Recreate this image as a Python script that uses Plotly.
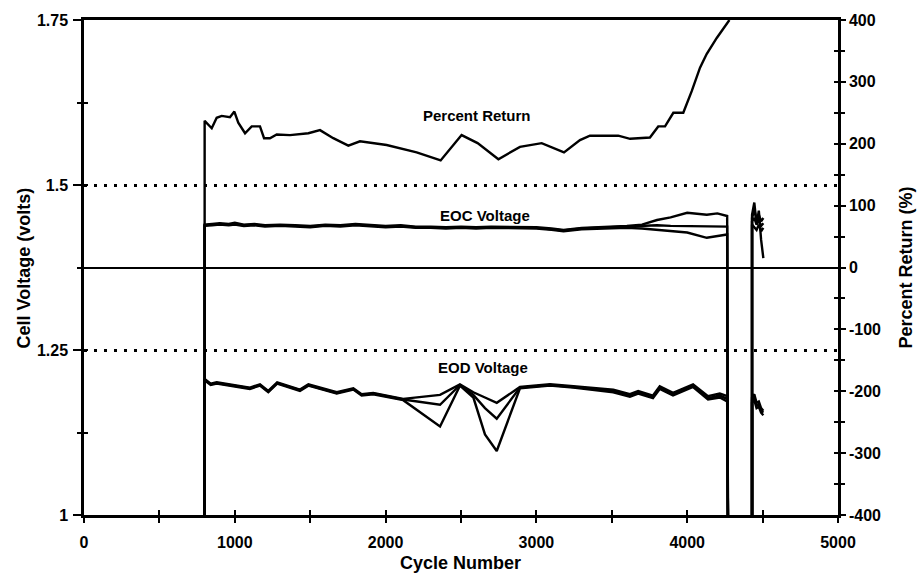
import plotly.graph_objects as go

# ---------------- data ----------------
# Percent return (right axis, %), first test segment
pr_cycles = [800, 800, 847, 880, 913, 968, 997, 1023, 1068, 1112, 1167, 1194, 1233, 1278,
             1366, 1488, 1565, 1653, 1753, 1830, 2007, 2206, 2365, 2504, 2610, 2748, 2891,
             3035, 3183, 3289, 3355, 3543, 3621, 3753, 3808, 3853, 3908, 3974, 4030, 4085,
             4129, 4196, 4280]
pr_values = [-400, 237, 225, 242, 245, 243, 252, 234, 217, 228, 228, 209, 209, 215,
             214, 217, 222, 209, 197, 204, 198, 186, 173, 214, 201, 175, 195,
             201, 186, 206, 213, 213, 208, 210, 228, 228, 250, 250, 285, 323,
             345, 371, 400]

# End-of-charge voltage (three cells), first segment
eoc_cycles = [800, 800, 850, 900, 960, 1000, 1060, 1130, 1200, 1300, 1400, 1500, 1600, 1700,
              1800, 1900, 2000, 2100, 2200, 2300, 2400, 2500, 2600, 2700, 2800, 2900, 3000,
              3100, 3180, 3300, 3400, 3500, 3600, 3700, 3800, 3890, 4000, 4130, 4200, 4265, 4270]
eoc_a = [1.0, 1.440, 1.441, 1.442, 1.441, 1.443, 1.440, 1.441, 1.439, 1.440,
         1.439, 1.438, 1.440, 1.439, 1.441, 1.439, 1.438, 1.439, 1.437, 1.437,
         1.436, 1.437, 1.436, 1.437, 1.437, 1.437, 1.436, 1.434, 1.432, 1.435,
         1.436, 1.436, 1.438, 1.440, 1.447, 1.451, 1.458, 1.455, 1.457, 1.453, 1.0]
eoc_b = [1.0, 1.439, 1.440, 1.441, 1.440, 1.441, 1.439, 1.440, 1.438, 1.439,
         1.438, 1.437, 1.439, 1.438, 1.440, 1.438, 1.437, 1.438, 1.436, 1.436,
         1.435, 1.436, 1.435, 1.436, 1.436, 1.436, 1.435, 1.433, 1.431, 1.434,
         1.435, 1.435, 1.436, 1.437, 1.439, 1.438, 1.438, 1.437, 1.437, 1.437, 1.0]
eoc_c = [1.0, 1.438, 1.439, 1.440, 1.439, 1.440, 1.438, 1.439, 1.437, 1.438,
         1.437, 1.436, 1.438, 1.437, 1.439, 1.437, 1.436, 1.437, 1.435, 1.435,
         1.434, 1.435, 1.434, 1.435, 1.435, 1.435, 1.434, 1.432, 1.430, 1.433,
         1.434, 1.434, 1.435, 1.434, 1.432, 1.430, 1.428, 1.420, 1.423, 1.425, 1.0]

# End-of-discharge voltage (three cells), first segment
eod_cycles = [800, 800, 840, 880, 1100, 1167, 1222, 1281, 1432, 1488, 1676, 1786, 1841, 1918,
              2117, 2361, 2493, 2582, 2659, 2737, 2891, 3090, 3245, 3510, 3620, 3675, 3773,
              3818, 3906, 4039, 4138, 4216, 4265, 4270]
eod_a = [1.0, 1.206, 1.199, 1.201, 1.193, 1.198, 1.188, 1.201, 1.190, 1.198,
         1.186, 1.192, 1.183, 1.185, 1.176, 1.182, 1.198, 1.186, 1.178, 1.170,
         1.194, 1.198, 1.195, 1.190, 1.183, 1.188, 1.181, 1.195, 1.185, 1.198,
         1.180, 1.184, 1.180, 1.0]
eod_b = [1.0, 1.205, 1.198, 1.200, 1.192, 1.197, 1.187, 1.200, 1.189, 1.197,
         1.185, 1.191, 1.182, 1.184, 1.175, 1.167, 1.197, 1.182, 1.162, 1.146,
         1.193, 1.197, 1.194, 1.188, 1.181, 1.186, 1.179, 1.193, 1.183, 1.196,
         1.177, 1.181, 1.176, 1.0]
eod_c = [1.0, 1.204, 1.197, 1.199, 1.191, 1.196, 1.186, 1.199, 1.188, 1.196,
         1.184, 1.190, 1.181, 1.183, 1.174, 1.134, 1.196, 1.178, 1.122, 1.097,
         1.192, 1.196, 1.193, 1.186, 1.179, 1.184, 1.177, 1.191, 1.181, 1.194,
         1.175, 1.178, 1.172, 1.0]

# Second (restarted) segment
seg2_cycles = [4430, 4430, 4445, 4460, 4475, 4490, 4505]
pr2_values = [-400, 85, 105, 70, 92, 45, 15]
eoc2_a = [1.0, 1.450, 1.462, 1.448, 1.455, 1.445, 1.450]
eoc2_b = [1.0, 1.445, 1.450, 1.440, 1.447, 1.438, 1.442]
eoc2_c = [1.0, 1.440, 1.436, 1.432, 1.440, 1.430, 1.435]
eod2_a = [1.0, 1.178, 1.183, 1.170, 1.172, 1.162, 1.158]
eod2_b = [1.0, 1.174, 1.178, 1.166, 1.168, 1.158, 1.155]
eod2_c = [1.0, 1.170, 1.174, 1.162, 1.164, 1.155, 1.151]

# Axis ticks
x_tickvals = [0, 500, 1000, 1500, 2000, 2500, 3000, 3500, 4000, 4500, 5000]
x_ticktext = ["0", "", "1000", "", "2000", "", "3000", "", "4000", "", "5000"]
y_tickvals = [1.0, 1.25, 1.5, 1.75]
y_ticktext = ["1", "1.25", "1.5", "1.75"]
y_minorvals = [1.125, 1.375, 1.625]
y2_tickvals = [-400, -300, -200, -100, 0, 100, 200, 300, 400]
y2_ticktext = ["-400", "-300", "-200", "-100", "0", "100", "200", "300", "400"]
y2_minorvals = [-350, -250, -150, -50, 50, 150, 250, 350]

labels = {"pr": "Percent Return", "eoc": "EOC Voltage", "eod": "EOD Voltage"}
label_pos = {"pr": (2606, 1.606), "eoc": (2659, 1.4545), "eod": (2646, 1.2242)}

for a, b in [(pr_cycles, pr_values), (eoc_cycles, eoc_a), (eoc_cycles, eoc_b), (eoc_cycles, eoc_c),
             (eod_cycles, eod_a), (eod_cycles, eod_b), (eod_cycles, eod_c)]:
    assert len(a) == len(b), (len(a), len(b))

# ---------------- figure ----------------
FONT = "Liberation Sans"
BLACK = "#000000"
LW = 2.4


def bold(items):
    return ["<b>%s</b>" % t if t else "" for t in items]


def join(c1, v1, c2, v2):
    return list(c1) + [None] + list(c2), list(v1) + [None] + list(v2)


fig = go.Figure()
line = dict(color=BLACK, width=LW)

# EOC on the primary x / y axes
for v1, v2 in [(eoc_a, eoc2_a), (eoc_b, eoc2_b), (eoc_c, eoc2_c)]:
    xs, ys = join(eoc_cycles, v1, seg2_cycles, v2)
    fig.add_trace(go.Scatter(x=xs, y=ys, mode="lines", line=line, connectgaps=False,
                             showlegend=False, hoverinfo="skip"))
# EOD on twin axes x3 / y3 (same ranges; they carry the inward half of the ticks)
for v1, v2 in [(eod_a, eod2_a), (eod_b, eod2_b), (eod_c, eod2_c)]:
    xs, ys = join(eod_cycles, v1, seg2_cycles, v2)
    fig.add_trace(go.Scatter(x=xs, y=ys, mode="lines", line=line, connectgaps=False,
                             showlegend=False, hoverinfo="skip", xaxis="x3", yaxis="y3"))
# Percent return on the right axis (first segment y2, restart segment on its twin y4)
fig.add_trace(go.Scatter(x=pr_cycles, y=pr_values, mode="lines", line=line,
                         showlegend=False, yaxis="y2", hoverinfo="skip"))
fig.add_trace(go.Scatter(x=seg2_cycles, y=pr2_values, mode="lines", line=line,
                         showlegend=False, yaxis="y4", hoverinfo="skip"))

tickfont = dict(family=FONT, size=16, color=BLACK)

fig.update_layout(
    width=917, height=577,
    margin=dict(l=84, r=79, t=20, b=62),
    paper_bgcolor="white", plot_bgcolor="white",
    font=dict(family=FONT, color=BLACK),
    xaxis=dict(range=[0, 5000], tickmode="array", tickvals=x_tickvals, ticktext=bold(x_ticktext),
               ticks="outside", ticklen=5, tickwidth=2, tickcolor=BLACK,
               showline=True, linewidth=2.5, linecolor=BLACK, mirror=True,
               showgrid=False, zeroline=False, tickfont=tickfont, ticklabelstandoff=6),
    yaxis=dict(range=[1.0, 1.75], tickmode="array", tickvals=y_tickvals, ticktext=bold(y_ticktext),
               ticks="outside", ticklen=8, tickwidth=2, tickcolor=BLACK,
               minor=dict(tickmode="array", tickvals=y_minorvals, ticks="outside", ticklen=4,
                          tickwidth=2, tickcolor=BLACK, showgrid=False),
               showline=True, linewidth=2.5, linecolor=BLACK,
               showgrid=True, gridcolor=BLACK, gridwidth=2.5, griddash="3px,7px",
               zeroline=False, tickfont=tickfont, ticklabelstandoff=2),
    yaxis2=dict(range=[-400, 400], overlaying="y", side="right", anchor="x",
                tickmode="array", tickvals=y2_tickvals, ticktext=bold(y2_ticktext),
                ticks="outside", ticklen=5, tickwidth=2, tickcolor=BLACK,
                minor=dict(tickmode="array", tickvals=y2_minorvals, ticks="outside", ticklen=4,
                           tickwidth=2, tickcolor=BLACK, showgrid=False),
                showline=True, linewidth=2.5, linecolor=BLACK,
                showgrid=False, zeroline=True, zerolinecolor=BLACK, zerolinewidth=2.2,
                tickfont=tickfont),
    xaxis3=dict(range=[0, 5000], overlaying="x", anchor="y3", side="bottom",
                tickmode="array", tickvals=x_tickvals, ticks="inside", ticklen=5, tickwidth=2,
                tickcolor=BLACK, showticklabels=False, showgrid=False, zeroline=False,
                showline=False),
    yaxis3=dict(range=[1.0, 1.75], overlaying="y", anchor="x3", side="left",
                tickmode="array", tickvals=y_minorvals + y_tickvals, ticks="inside", ticklen=4,
                tickwidth=2, tickcolor=BLACK, showticklabels=False, showgrid=False,
                zeroline=False, showline=False),
    yaxis4=dict(range=[-400, 400], overlaying="y", anchor="x", side="right",
                tickmode="array", tickvals=y2_minorvals + y2_tickvals, ticks="inside", ticklen=4,
                tickwidth=2, tickcolor=BLACK, showticklabels=False, showgrid=False,
                zeroline=False, showline=False),
)

lab_font = dict(family=FONT, size=15, color=BLACK)
for key in ["pr", "eoc", "eod"]:
    lx, ly = label_pos[key]
    fig.add_annotation(x=lx, y=ly, xref="x", yref="y", text="<b>%s</b>" % labels[key],
                       showarrow=False, font=lab_font, xanchor="center", yanchor="middle")

title_font = dict(family=FONT, size=18, color=BLACK)
fig.add_annotation(x=-0.0796, y=0.5, xref="paper", yref="paper",
                   text="<b>Cell Voltage (volts)</b>", textangle=-90, showarrow=False,
                   font=title_font, xanchor="center", yanchor="middle")
fig.add_annotation(x=1.089, y=0.5, xref="paper", yref="paper",
                   text="<b>Percent Return (%)</b>", textangle=-90, showarrow=False,
                   font=title_font, xanchor="center", yanchor="middle")
fig.add_annotation(x=0.4987, y=-0.097, xref="paper", yref="paper", text="<b>Cycle Number</b>",
                   showarrow=False, font=title_font, xanchor="center", yanchor="middle")

fig.write_html("out.html")
